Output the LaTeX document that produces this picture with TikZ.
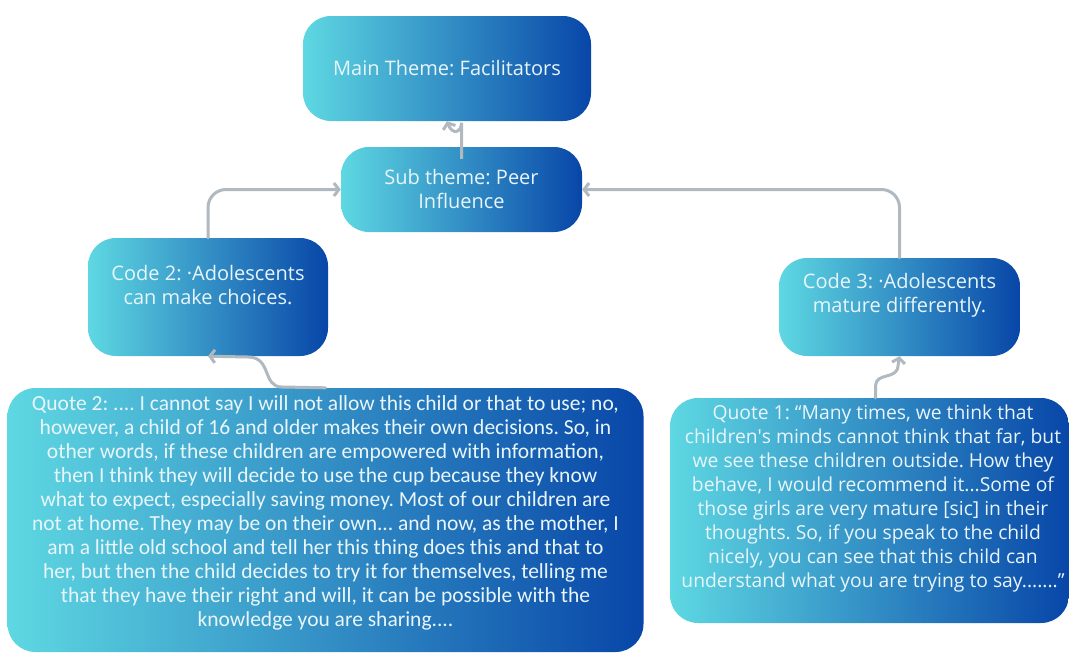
\documentclass[tikz,border=0pt]{standalone}
\usepackage{fontspec}
\setmainfont{Open Sans}
\newfontfamily\quotefont{Carlito}
\usetikzlibrary{arrows.meta}
\frenchspacing

\definecolor{tcyan}{RGB}{94,216,226}
\definecolor{tblue}{RGB}{8,70,168}
\definecolor{tlight}{RGB}{232,245,250}
\definecolor{tgray}{RGB}{176,185,192}

\tikzset{
  theme/.style={rounded corners=28pt, left color=tcyan, right color=tblue, draw=none, inner sep=0pt},
  label text/.style={text=tlight, align=center, font=\fontsize{20}{24}\selectfont},
  link/.style={draw=tgray, line width=3pt, line cap=round, rounded corners=18pt,
    -{Straight Barb[length=5pt, width=13pt, line width=3pt]}},
}

\begin{document}
\begin{tikzpicture}[x=1pt, y=-1pt]
  \useasboundingbox[fill=white] (0,0) rectangle (1069,654);

  % theme boxes
  \node[theme, minimum width=288, minimum height=105] (main) at (447,68.5) {};
  \node[label text] (maintxt) at (main.center) {Main Theme: Facilitators};

  \node[theme, minimum width=241, minimum height=85] (sub) at (461.5,189.5) {};
  \node[label text] (subtxt) at ([yshift=1pt]sub.center) {Sub theme: Peer\\Influence};

  % codes
  \node[theme, minimum width=240, minimum height=118] (code2) at (208,297) {};
  \node[label text] (code2txt) at ([yshift=12pt]code2.center) {Code 2: ·Adolescents\\can make choices.};

  \node[theme, minimum width=241, minimum height=98] (code3) at (899.5,307) {};
  \node[label text] (code3txt) at ([yshift=12pt]code3.center) {Code 3: ·Adolescents\\mature differently.};

  % quotes
  \node[theme, minimum width=636, minimum height=264] (quote2) at (325.5,520) {};
  \node[label text, font=\quotefont\fontsize{21.5}{24}\selectfont] (quote2txt) at ([yshift=7pt]quote2.center) {%
    Quote 2: .... I cannot say I will not allow this child or that to use; no,\\
    however, a child of 16 and older makes their own decisions. So, in\\
    other words, if these children are empowered with information,\\
    then I think they will decide to use the cup because they know\\
    what to expect, especially saving money. Most of our children are\\
    not at home. They may be on their own... and now, as the mother, I\\
    am a little old school and tell her this thing does this and that to\\
    her, but then the child decides to try it for themselves, telling me\\
    that they have their right and will, it can be possible with the\\
    knowledge you are sharing....};

  \node[theme, minimum width=399, minimum height=225] (quote1) at (869.5,510.5) {};
  \node[label text, font=\fontsize{19.3}{24}\selectfont] (quote1txt) at (873,498.5) {%
    Quote 1: “Many times, we think that\\
    children\textquotesingle s minds cannot think that far, but\\
    we see these children outside. How they\\
    behave, I would recommend it...Some of\\
    those girls are very mature [sic] in their\\
    thoughts. So, if you speak to the child\\
    nicely, you can see that this child can\\
    understand what you are trying to say.......”};

  % connectors
  \draw[link] (sub.north) -- ++(0,-6) .. controls (461.5,133) and (452,135) .. (main.south);
  \draw[link] (code2.north) |- (sub.west);
  \draw[link] (code3.north) |- (sub.east);
  \draw[link, rounded corners=0pt] (quote2.north) -- (282,387) .. controls (262,387) and (272,357) .. (248,357) -- (code2.south);
  \draw[link, rounded corners=0pt] ([xshift=6pt]quote1.north) -- ++(0,-12) .. controls (876,372) and (897,380) .. (898,366) -- (code3.south);
\end{tikzpicture}
\end{document}
